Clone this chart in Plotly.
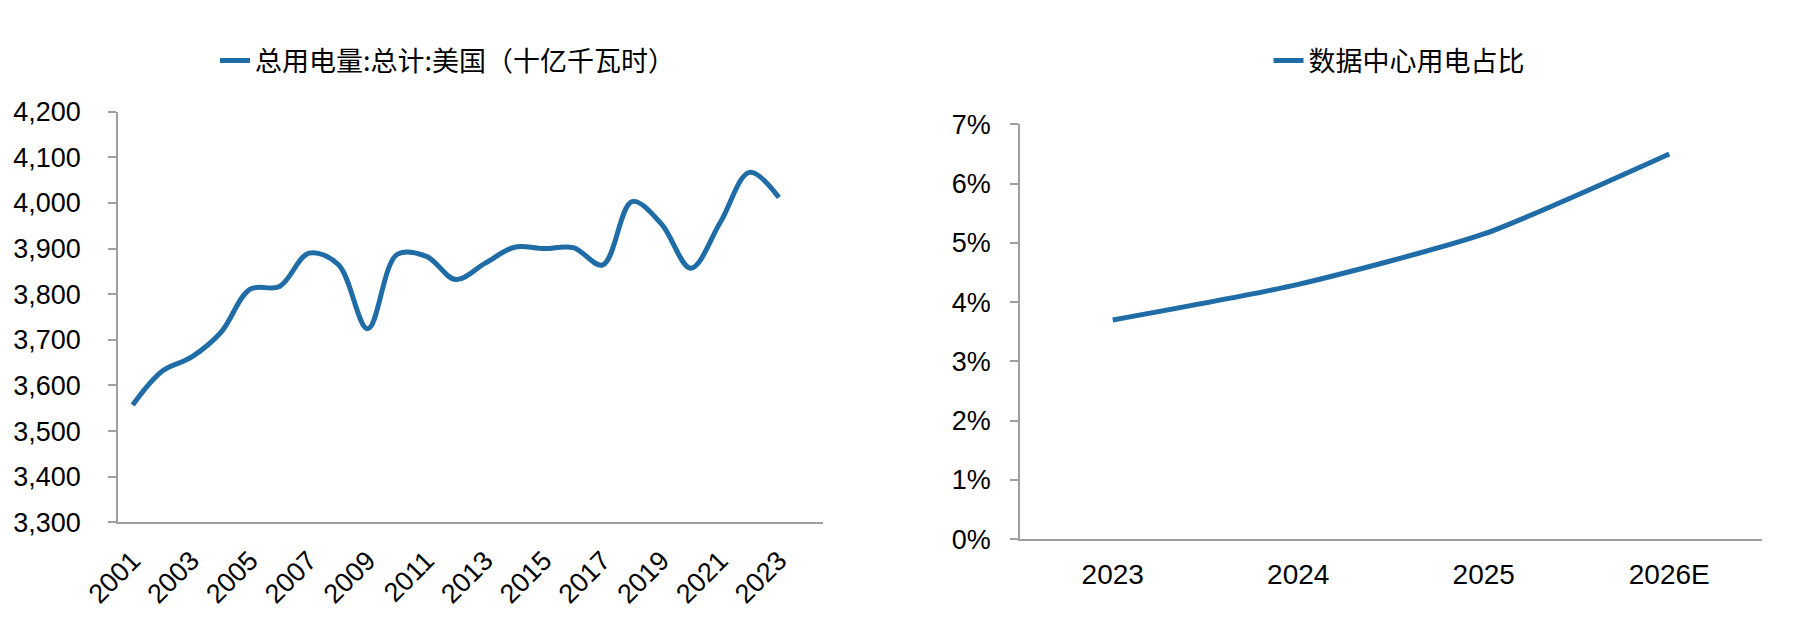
import plotly.graph_objects as go

# ---- data ----
years = list(range(2001, 2024))
us_total_use = [3557, 3631, 3662, 3716, 3811, 3817, 3890, 3865, 3724, 3887,
                3883, 3832, 3868, 3903, 3900, 3902, 3864, 4003, 3954, 3857,
                3957, 4067, 4012]
left_ticks = list(range(2001, 2024, 2))

dc_years = ["2023", "2024", "2025", "2026E"]
dc_share = [0.037, 0.043, 0.0515, 0.065]

name_left = "总用电量:总计:美国（十亿千瓦时）"
name_right = "数据中心用电占比"

# page body has an 8px default margin; size the figure so the page fits the window
OFF = 8
W, H = 1816 - 2 * OFF, 618 - 2 * OFF
LINE_COLOR = "#1f6ca6"
AXIS_COLOR = "#a0a0a0"
TICK_FAMILY = "Liberation Sans, Arial, sans-serif"
CJK_FONT = dict(family="Noto Sans CJK SC, sans-serif", size=27, color="#000000")

fig = go.Figure()
fig.add_trace(go.Scatter(
    x=years, y=us_total_use, mode="lines", name=name_left,
    line=dict(color=LINE_COLOR, width=5, shape="spline", smoothing=1.0),
    xaxis="x", yaxis="y", legend="legend", hoverinfo="x+y"))
fig.add_trace(go.Scatter(
    x=dc_years, y=dc_share, mode="lines", name=name_right,
    line=dict(color=LINE_COLOR, width=5, shape="spline", smoothing=0.6),
    xaxis="x2", yaxis="y2", legend="legend2", hoverinfo="x+y"))

def px_x(p):
    return (p - OFF) / W

def px_y(p):
    return 1 - (p - OFF) / H

def tf(size):
    return dict(family=TICK_FAMILY, size=size, color="#000000")

common_axis = dict(showline=True, linecolor=AXIS_COLOR, linewidth=1.5,
                   showgrid=False, zeroline=False, automargin=False,
                   tickcolor=AXIS_COLOR, tickwidth=1.5)

fig.update_layout(
    width=W, height=H,
    margin=dict(l=0, r=0, t=0, b=0),
    paper_bgcolor="white", plot_bgcolor="white",
    showlegend=True,
    xaxis=dict(domain=[px_x(118), px_x(823)], anchor="y",
               range=[2000.5, 2024.5], tickmode="array", tickvals=left_ticks,
               ticktext=[str(v) for v in left_ticks], tickangle=-45,
               ticks="", tickfont=tf(27), ticklabelstandoff=10, **common_axis),
    yaxis=dict(domain=[px_y(522.3), px_y(111.7)], anchor="x",
               range=[3300, 4200], dtick=100, tickformat=",",
               ticks="outside", ticklen=8, tickfont=tf(27),
               ticklabelstandoff=22, **common_axis),
    xaxis2=dict(domain=[px_x(1020), px_x(1762)], anchor="y2",
                type="category", range=[-0.5, 3.5], ticks="",
                tickfont=tf(28), ticklabelstandoff=9, **common_axis),
    yaxis2=dict(domain=[px_y(539.3), px_y(124.3)], anchor="x2",
                range=[0, 0.07], dtick=0.01, tickformat=".0%",
                ticks="outside", ticklen=8, tickfont=tf(27),
                ticklabelstandoff=14, **common_axis),
    legend=dict(x=px_x(448), y=px_y(61), xanchor="center", yanchor="middle",
                orientation="h", font=CJK_FONT, bgcolor="rgba(0,0,0,0)"),
    legend2=dict(x=px_x(1399), y=px_y(61), xanchor="center", yanchor="middle",
                 orientation="h", font=CJK_FONT, bgcolor="rgba(0,0,0,0)"),
)

fig.write_html("out.html")
